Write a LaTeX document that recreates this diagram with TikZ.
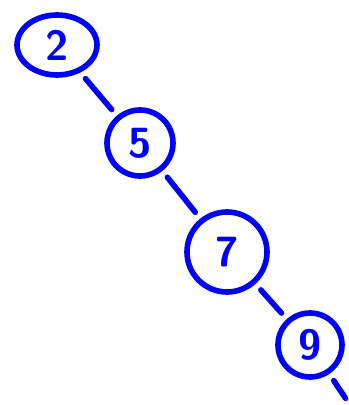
\documentclass[tikz,border=0pt]{standalone}
\usetikzlibrary{positioning,shapes.geometric}
\tikzset{auto ,node distance =2.4 cm and 2.1cm ,on grid ,
vertex/.style ={ circle , draw=blue, line width=4pt, text=blue, font=\fontsize{30}{30}\sffamily\bfseries, minimum size =1.6 cm, inner sep=0pt},
link/.style ={ draw=blue, line width=4pt, line cap=round, shorten >=0.2cm, shorten <=0.2cm}}
\begin{document}
\begin{tikzpicture}
\useasboundingbox (0,0) rectangle (8.725,10.125);
\node[vertex, ellipse, minimum width=2cm, minimum height=1.5cm] (A) at (1.425,9.0) {2};
\node[vertex, minimum size=1.65cm] (B) [below right=2.45cm and 2.075cm of A] {5};
\node[vertex, minimum size=2cm] (C) [below right=2.725cm and 2.175cm of B] {7};
\node[vertex] (D) [below right=2.325cm and 2.075cm of C] {9};
\coordinate[below right=1.5cm and 1.0cm of D] (E);
\path[link]
    (A) edge (B)
    (B) edge (C)
    (C) edge (D)
    (D) edge (E);
\end{tikzpicture}
\end{document}
